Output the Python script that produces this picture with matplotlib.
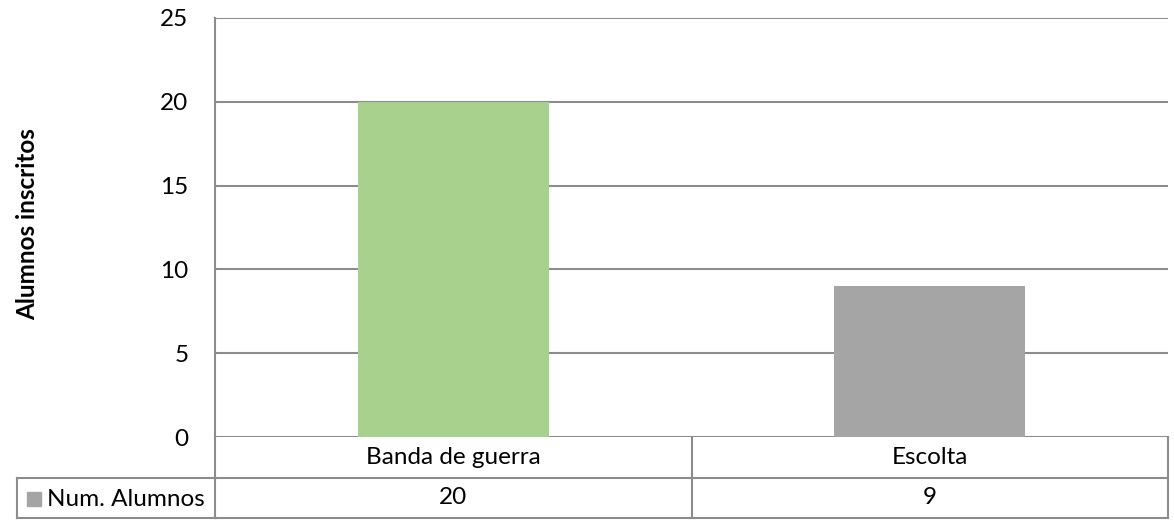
import matplotlib
matplotlib.use("Agg")
import matplotlib.pyplot as plt
import matplotlib.transforms as mtransforms
from matplotlib.patches import Rectangle

categories = ["Banda de guerra", "Escolta"]
values = [20, 9]
series_name = "Num. Alumnos"
bar_colors = ["#A9D18E", "#A5A5A5"]
legend_color = "#A5A5A5"
y_ticks = [0, 5, 10, 15, 20, 25]
y_label = "Alumnos inscritos"

plt.rcParams['font.family'] = ['Lato', 'DejaVu Sans']

W, H = 1174, 520
fig = plt.figure(figsize=(W / 100, H / 100), dpi=100)
left, right, top, bottom = 215, 1168, 18, 437
ax = fig.add_axes([left / W, 1 - bottom / H, (right - left) / W, (bottom - top) / H])

x = list(range(len(categories)))
ax.bar(x, values, width=0.4, color=bar_colors, zorder=3)
ax.set_xlim(-0.5, len(categories) - 0.5)
ax.set_ylim(y_ticks[0], y_ticks[-1])
ax.set_yticks(y_ticks)
ax.set_yticklabels([str(t) for t in y_ticks], fontsize=17.5)
ax.set_xticks([])
ax.tick_params(axis='y', length=0, pad=19)
grid_c = "#8C8C8C"
ax.yaxis.grid(True, color=grid_c, linewidth=1.5, zorder=0)
for s in ["top", "right", "bottom"]:
    ax.spines[s].set_visible(False)
ax.spines["left"].set_color(grid_c)
ax.spines["left"].set_linewidth(1.5)
ax.set_ylabel(y_label, fontsize=17.5, fontweight='bold')
ax.yaxis.set_label_coords(-(left - 39) / (right - left), (bottom - 224) / (bottom - top))

# Data table below the axes
ph = bottom - top
r1 = -41 / ph
r2 = -81 / ph
tr = mtransforms.blended_transform_factory(ax.transData, ax.transAxes)
tra = ax.transAxes
xl_label = -(left - 17) / (right - left)  # axes fraction of table's left edge
lw = 1.5
kw = dict(color=grid_c, linewidth=lw, clip_on=False)
n = len(categories)
for b in [i - 0.5 for i in range(n + 1)]:
    ax.plot([b, b], [0, r2], transform=tr, **kw)
ax.plot([-0.5, n - 0.5], [r1, r1], transform=tr, **kw)
ax.plot([-0.5, n - 0.5], [r2, r2], transform=tr, **kw)
ax.plot([xl_label, 0], [r1, r1], transform=tra, **kw)
ax.plot([xl_label, 0], [r2, r2], transform=tra, **kw)
ax.plot([xl_label, xl_label], [r1, r2], transform=tra, **kw)

for i, (c, v) in enumerate(zip(categories, values)):
    ax.text(i, r1 / 2, c, transform=tr, ha='center', va='center', fontsize=17.5)
    ax.text(i, (r1 + r2) / 2, str(v), transform=tr, ha='center', va='center', fontsize=17.5)

# legend key + series name
sq = 14
fx0 = 27 / W
fy = 1 - 499 / H
fig.patches.append(Rectangle((fx0, fy - (sq / 2) / H), sq / W, sq / H,
                             transform=fig.transFigure, color=legend_color))
fig.text(47 / W, fy, series_name, ha='left', va='center', fontsize=17.5)

fig.savefig("out.png", dpi=100)
